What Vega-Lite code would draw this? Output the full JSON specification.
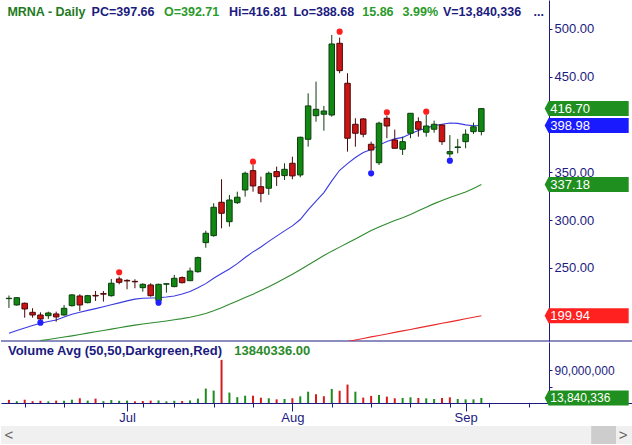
{
  "$schema": "https://vega.github.io/schema/vega-lite/v6.json",
  "padding": 0,
  "background": "#ffffff",
  "config": {"view": {"stroke": null}, "font": "Liberation Sans"},
  "datasets": {
    "one": [{}],
    "days": [
      {"i": -12, "date": "2021-06-10", "o": 217.9, "h": 221.2, "l": 208.2, "c": 218.3, "v": 8500000, "chg": "down", "ma20": 181.7},
      {"i": -11, "date": "2021-06-11", "o": 211.3, "h": 219.5, "l": 210.5, "c": 218.9, "v": 5000000, "chg": "up", "ma20": 184.5},
      {"i": -10, "date": "2021-06-14", "o": 213.1, "h": 213.8, "l": 198.0, "c": 207.1, "v": 9000000, "chg": "down", "ma20": 187.2},
      {"i": -9, "date": "2021-06-15", "o": 203.6, "h": 207.9, "l": 198.0, "c": 200.8, "v": 5000000, "chg": "down", "ma20": 189.8},
      {"i": -8, "date": "2021-06-16", "o": 200.8, "h": 203.6, "l": 194.6, "c": 196.6, "v": 6000000, "chg": "down", "ma20": 192.2, "ma50": 174.0},
      {"i": -7, "date": "2021-06-17", "o": 200.1, "h": 204.3, "l": 196.7, "c": 202.9, "v": 4500000, "chg": "up", "ma20": 194.0, "ma50": 175.2},
      {"i": -6, "date": "2021-06-18", "o": 201.9, "h": 204.3, "l": 193.8, "c": 198.8, "v": 6500000, "chg": "down", "ma20": 195.6, "ma50": 176.4},
      {"i": -5, "date": "2021-06-21", "o": 200.8, "h": 211.3, "l": 200.1, "c": 207.8, "v": 6500000, "chg": "up", "ma20": 198.6, "ma50": 177.7},
      {"i": -4, "date": "2021-06-22", "o": 210.6, "h": 222.5, "l": 209.5, "c": 221.8, "v": 9000000, "chg": "up", "ma20": 201.6, "ma50": 179.0},
      {"i": -3, "date": "2021-06-23", "o": 220.7, "h": 222.5, "l": 205.0, "c": 211.3, "v": 13000000, "chg": "down", "ma20": 203.6, "ma50": 180.4},
      {"i": -2, "date": "2021-06-24", "o": 213.7, "h": 221.8, "l": 213.0, "c": 221.0, "v": 6500000, "chg": "up", "ma20": 205.6, "ma50": 181.8},
      {"i": -1, "date": "2021-06-25", "o": 221.3, "h": 225.9, "l": 215.5, "c": 220.7, "v": 12000000, "chg": "down", "ma20": 207.5, "ma50": 183.2},
      {"i": 0, "date": "2021-06-28", "o": 223.2, "h": 225.9, "l": 214.8, "c": 222.6, "v": 5000000, "chg": "up", "ma20": 209.5, "ma50": 184.6},
      {"i": 1, "date": "2021-06-29", "o": 221.0, "h": 238.5, "l": 220.0, "c": 234.0, "v": 8000000, "chg": "up", "ma20": 211.5, "ma50": 186.0},
      {"i": 2, "date": "2021-06-30", "o": 238.5, "h": 240.9, "l": 232.9, "c": 235.0, "v": 6000000, "chg": "up", "ma20": 213.5, "ma50": 187.4},
      {"i": 3, "date": "2021-07-01", "o": 237.0, "h": 238.2, "l": 227.7, "c": 236.4, "v": 6500000, "chg": "up", "ma20": 215.6, "ma50": 188.9},
      {"i": 4, "date": "2021-07-02", "o": 236.0, "h": 238.2, "l": 228.8, "c": 235.5, "v": 4500000, "chg": "down", "ma20": 217.4, "ma50": 190.2},
      {"i": 5, "date": "2021-07-06", "o": 229.4, "h": 234.0, "l": 225.2, "c": 232.9, "v": 5500000, "chg": "down", "ma20": 218.3, "ma50": 191.3},
      {"i": 6, "date": "2021-07-07", "o": 232.2, "h": 234.0, "l": 220.0, "c": 221.0, "v": 6500000, "chg": "down", "ma20": 218.6, "ma50": 192.4},
      {"i": 7, "date": "2021-07-08", "o": 215.8, "h": 233.5, "l": 215.0, "c": 232.9, "v": 7000000, "chg": "up", "ma20": 218.8, "ma50": 193.5},
      {"i": 8, "date": "2021-07-09", "o": 233.0, "h": 234.0, "l": 224.2, "c": 233.5, "v": 4500000, "chg": "up", "ma20": 219.6, "ma50": 194.6},
      {"i": 9, "date": "2021-07-12", "o": 230.5, "h": 242.7, "l": 229.8, "c": 239.2, "v": 6000000, "chg": "up", "ma20": 220.6, "ma50": 195.8},
      {"i": 10, "date": "2021-07-13", "o": 239.9, "h": 241.2, "l": 233.9, "c": 234.6, "v": 5500000, "chg": "down", "ma20": 222.8, "ma50": 197.0},
      {"i": 11, "date": "2021-07-14", "o": 236.7, "h": 250.4, "l": 236.3, "c": 246.8, "v": 7000000, "chg": "up", "ma20": 225.3, "ma50": 198.4},
      {"i": 12, "date": "2021-07-15", "o": 246.1, "h": 261.9, "l": 245.0, "c": 260.8, "v": 12000000, "chg": "up", "ma20": 229.2, "ma50": 200.2},
      {"i": 13, "date": "2021-07-16", "o": 276.5, "h": 289.0, "l": 271.2, "c": 286.3, "v": 39500000, "chg": "up", "ma20": 233.6, "ma50": 202.4},
      {"i": 14, "date": "2021-07-19", "o": 283.8, "h": 317.7, "l": 282.7, "c": 313.5, "v": 34000000, "chg": "up", "ma20": 239.3, "ma50": 205.2},
      {"i": 15, "date": "2021-07-20", "o": 318.7, "h": 342.8, "l": 291.5, "c": 307.2, "v": 118000000, "chg": "down", "ma20": 244.3, "ma50": 208.4},
      {"i": 16, "date": "2021-07-21", "o": 298.4, "h": 326.4, "l": 293.2, "c": 321.1, "v": 28500000, "chg": "up", "ma20": 249.0, "ma50": 212.0},
      {"i": 17, "date": "2021-07-22", "o": 318.3, "h": 329.8, "l": 316.9, "c": 324.0, "v": 16000000, "chg": "up", "ma20": 254.5, "ma50": 215.5},
      {"i": 18, "date": "2021-07-23", "o": 331.6, "h": 350.8, "l": 324.6, "c": 349.0, "v": 20000000, "chg": "up", "ma20": 261.0, "ma50": 219.0},
      {"i": 19, "date": "2021-07-26", "o": 351.8, "h": 357.7, "l": 329.8, "c": 335.8, "v": 20000000, "chg": "down", "ma20": 266.8, "ma50": 222.6},
      {"i": 20, "date": "2021-07-27", "o": 335.0, "h": 345.5, "l": 318.7, "c": 328.1, "v": 14500000, "chg": "down", "ma20": 272.0, "ma50": 226.4},
      {"i": 21, "date": "2021-07-28", "o": 333.4, "h": 350.8, "l": 326.4, "c": 349.0, "v": 13000000, "chg": "up", "ma20": 277.8, "ma50": 230.4},
      {"i": 22, "date": "2021-07-29", "o": 350.8, "h": 356.0, "l": 335.8, "c": 345.5, "v": 10000000, "chg": "down", "ma20": 283.3, "ma50": 234.6},
      {"i": 23, "date": "2021-07-30", "o": 346.6, "h": 359.5, "l": 342.1, "c": 353.2, "v": 11000000, "chg": "up", "ma20": 288.8, "ma50": 239.0},
      {"i": 24, "date": "2021-08-02", "o": 359.5, "h": 366.4, "l": 342.8, "c": 346.3, "v": 13000000, "chg": "down", "ma20": 294.0, "ma50": 243.5},
      {"i": 25, "date": "2021-08-03", "o": 347.3, "h": 387.3, "l": 344.9, "c": 386.7, "v": 18200000, "chg": "up", "ma20": 300.7, "ma50": 248.2},
      {"i": 26, "date": "2021-08-04", "o": 384.6, "h": 432.7, "l": 376.9, "c": 419.5, "v": 31000000, "chg": "up", "ma20": 310.7, "ma50": 253.1},
      {"i": 27, "date": "2021-08-05", "o": 409.3, "h": 444.9, "l": 403.0, "c": 416.0, "v": 24000000, "chg": "down", "ma20": 319.8, "ma50": 258.0},
      {"i": 28, "date": "2021-08-06", "o": 410.8, "h": 419.5, "l": 393.6, "c": 414.2, "v": 18500000, "chg": "down", "ma20": 328.8, "ma50": 263.0},
      {"i": 29, "date": "2021-08-09", "o": 410.0, "h": 493.7, "l": 408.3, "c": 484.3, "v": 38500000, "chg": "up", "ma20": 341.1, "ma50": 267.6},
      {"i": 30, "date": "2021-08-10", "o": 485.0, "h": 491.0, "l": 453.7, "c": 456.4, "v": 33500000, "chg": "down", "ma20": 352.2, "ma50": 271.8},
      {"i": 31, "date": "2021-08-11", "o": 443.2, "h": 453.7, "l": 371.7, "c": 385.7, "v": 50500000, "chg": "down", "ma20": 359.1, "ma50": 276.0, "ma200": 173.1},
      {"i": 32, "date": "2021-08-12", "o": 400.3, "h": 406.6, "l": 376.9, "c": 390.9, "v": 31000000, "chg": "up", "ma20": 365.6, "ma50": 280.3, "ma200": 174.7},
      {"i": 33, "date": "2021-08-13", "o": 405.9, "h": 406.6, "l": 386.7, "c": 389.9, "v": 14700000, "chg": "down", "ma20": 370.8, "ma50": 284.8, "ma200": 176.3},
      {"i": 34, "date": "2021-08-16", "o": 379.4, "h": 382.1, "l": 352.5, "c": 373.4, "v": 19500000, "chg": "down", "ma20": 373.8, "ma50": 289.2, "ma200": 177.9},
      {"i": 35, "date": "2021-08-17", "o": 360.1, "h": 403.0, "l": 357.7, "c": 401.4, "v": 22000000, "chg": "up", "ma20": 378.5, "ma50": 292.8, "ma200": 179.4},
      {"i": 36, "date": "2021-08-18", "o": 406.6, "h": 409.3, "l": 385.7, "c": 398.5, "v": 17500000, "chg": "down", "ma20": 382.4, "ma50": 296.3, "ma200": 181.0},
      {"i": 37, "date": "2021-08-19", "o": 383.9, "h": 394.7, "l": 375.0, "c": 375.2, "v": 13000000, "chg": "down", "ma20": 385.0, "ma50": 299.6, "ma200": 182.6},
      {"i": 38, "date": "2021-08-20", "o": 374.2, "h": 387.3, "l": 368.2, "c": 382.1, "v": 13800000, "chg": "up", "ma20": 386.6, "ma50": 302.6, "ma200": 184.2},
      {"i": 39, "date": "2021-08-23", "o": 390.9, "h": 411.8, "l": 385.7, "c": 411.8, "v": 15600000, "chg": "up", "ma20": 390.4, "ma50": 306.0, "ma200": 185.7},
      {"i": 40, "date": "2021-08-24", "o": 403.0, "h": 407.6, "l": 387.3, "c": 395.1, "v": 13800000, "chg": "down", "ma20": 393.8, "ma50": 309.8, "ma200": 187.3},
      {"i": 41, "date": "2021-08-25", "o": 392.0, "h": 410.0, "l": 387.3, "c": 398.5, "v": 12800000, "chg": "up", "ma20": 396.2, "ma50": 313.6, "ma200": 188.9},
      {"i": 42, "date": "2021-08-26", "o": 395.1, "h": 404.1, "l": 391.5, "c": 400.3, "v": 11000000, "chg": "up", "ma20": 399.0, "ma50": 317.3, "ma200": 190.5},
      {"i": 43, "date": "2021-08-27", "o": 399.6, "h": 399.6, "l": 378.7, "c": 382.1, "v": 13800000, "chg": "down", "ma20": 400.4, "ma50": 320.5, "ma200": 192.1},
      {"i": 44, "date": "2021-08-30", "o": 369.3, "h": 389.0, "l": 366.0, "c": 371.7, "v": 15600000, "chg": "down", "ma20": 401.7, "ma50": 323.6, "ma200": 193.6},
      {"i": 45, "date": "2021-08-31", "o": 376.0, "h": 385.0, "l": 370.0, "c": 376.6, "v": 11000000, "chg": "up", "ma20": 401.2, "ma50": 326.6, "ma200": 195.2},
      {"i": 46, "date": "2021-09-01", "o": 382.1, "h": 395.0, "l": 375.2, "c": 389.9, "v": 10000000, "chg": "up", "ma20": 399.7, "ma50": 329.4, "ma200": 196.8},
      {"i": 47, "date": "2021-09-02", "o": 392.6, "h": 402.0, "l": 390.2, "c": 397.66, "v": 10000000, "chg": "up", "ma20": 398.8, "ma50": 333.2, "ma200": 198.4},
      {"i": 48, "date": "2021-09-03", "o": 392.71, "h": 416.81, "l": 388.68, "c": 416.70, "v": 13840336, "chg": "up", "ma20": 398.98, "ma50": 337.18, "ma200": 199.94}
    ],
    "pivots": [
      {"i": -8, "price": 192.8, "kind": "low"},
      {"i": 2, "price": 245.5, "kind": "high"},
      {"i": 7, "price": 213.7, "kind": "low"},
      {"i": 19, "price": 361.2, "kind": "high"},
      {"i": 30, "price": 497.2, "kind": "high"},
      {"i": 34, "price": 349.0, "kind": "low"},
      {"i": 36, "price": 412.9, "kind": "high"},
      {"i": 41, "price": 413.5, "kind": "high"},
      {"i": 44, "price": 362.2, "kind": "low"}
    ],
    "levels": [
      {"line": "close", "value": 416.70},
      {"line": "ma20", "value": 398.98},
      {"line": "ma50", "value": 337.18},
      {"line": "ma200", "value": 199.94}
    ],
    "vlevel": [{"value": 13840336}]
  },
  "vconcat": [
    {
      "spacing": 0,
      "vconcat": [
        {
          "width": 632,
          "height": 341,
          "data": {"name": "days"},
          "layer": [
            {
              "data": {"name": "one"},
              "mark": {"type": "rule", "color": "#1b1b80", "strokeWidth": 1},
              "encoding": {
                "y": {
                  "datum": 173.6,
                  "type": "quantitative",
                  "scale": {"domain": [173.6, 530.3], "nice": false, "zero": false},
                  "axis": {
                    "orient": "right", "offset": -84, "title": null, "grid": false,
                    "values": [250, 300, 350, 450, 500], "format": ".2f",
                    "domainColor": "#1b1b80", "tickColor": "#1b1b80", "tickSize": 3,
                    "labelPadding": 2, "labelColor": "#1b1b80", "labelFont": "Liberation Sans",
                    "labelFontSize": 13, "labelOverlap": false, "zindex": 0
                  }
                }
              }
            },
            {
              "mark": {"type": "line", "color": "#e82a2a", "strokeWidth": 1.1, "clip": true},
              "encoding": {
                "x": {"field": "i", "type": "quantitative", "scale": {"domain": [-12.375, 66.625], "nice": false, "zero": false}, "axis": null},
                "y": {"field": "ma200", "type": "quantitative"}
              }
            },
            {
              "mark": {"type": "line", "color": "#2e8b2e", "strokeWidth": 1.1, "clip": true},
              "encoding": {
                "x": {"field": "i", "type": "quantitative", "axis": null},
                "y": {"field": "ma50", "type": "quantitative"}
              }
            },
            {
              "mark": {"type": "line", "color": "#3a3ae0", "strokeWidth": 1.1, "clip": true},
              "encoding": {
                "x": {"field": "i", "type": "quantitative", "axis": null},
                "y": {"field": "ma20", "type": "quantitative"}
              }
            },
            {
              "mark": {"type": "rule", "strokeWidth": 1},
              "encoding": {
                "x": {"field": "i", "type": "quantitative", "axis": null},
                "y": {"field": "l", "type": "quantitative"},
                "y2": {"field": "h"},
                "color": {"condition": {"test": "datum.c >= datum.o", "value": "#0c3f0c"}, "value": "#4a0808"}
              }
            },
            {
              "mark": {"type": "bar", "width": 5.5, "strokeWidth": 1},
              "encoding": {
                "x": {"field": "i", "type": "quantitative", "axis": null},
                "y": {"field": "o", "type": "quantitative"},
                "y2": {"field": "c"},
                "fill": {"condition": {"test": "datum.c >= datum.o", "value": "#118811"}, "value": "#cc1414"},
                "stroke": {"condition": {"test": "datum.c >= datum.o", "value": "#0c3f0c"}, "value": "#4a0808"}
              }
            },
            {
              "data": {"name": "pivots"},
              "mark": {"type": "circle", "size": 38, "opacity": 1},
              "encoding": {
                "x": {"field": "i", "type": "quantitative", "axis": null},
                "y": {"field": "price", "type": "quantitative"},
                "color": {"condition": {"test": "datum.kind == 'high'", "value": "#ff1f1f"}, "value": "#1f1fff"}
              }
            },
            {
              "data": {"name": "levels"},
              "mark": {"type": "point", "shape": "M-1,0L-0.905,-0.1786L1,-0.1786L1,0.1786L-0.905,0.1786Z", "size": 7056, "filled": true, "opacity": 1, "strokeWidth": 0},
              "encoding": {
                "x": {"datum": 61.375, "type": "quantitative", "axis": null},
                "y": {"field": "value", "type": "quantitative"},
                "color": {
                  "condition": [
                    {"test": "datum.line == 'ma20'", "value": "#1a1aff"},
                    {"test": "datum.line == 'ma200'", "value": "#ff2020"}
                  ],
                  "value": "#1f8f1f"
                }
              }
            },
            {
              "data": {"name": "levels"},
              "mark": {"type": "text", "align": "left", "baseline": "middle", "fontSize": 13, "color": "#ffffff", "font": "Liberation Sans"},
              "encoding": {
                "x": {"datum": 56.75, "type": "quantitative", "axis": null},
                "y": {"field": "value", "type": "quantitative"},
                "text": {"field": "value", "type": "quantitative", "format": ".2f"}
              }
            },
            {
              "data": {"name": "one"},
              "mark": {"type": "text", "text": "MRNA - Daily", "align": "left", "baseline": "middle", "fontSize": 12.5, "fontWeight": "bold", "color": "#1e7b1e"},
              "encoding": {"x": {"datum": -12.2, "type": "quantitative", "axis": null}, "y": {"datum": 517.75, "type": "quantitative"}}
            },
            {
              "data": {"name": "one"},
              "mark": {"type": "text", "text": "PC=397.66", "align": "left", "baseline": "middle", "fontSize": 12.5, "fontWeight": "bold", "color": "#1b1b80"},
              "encoding": {"x": {"datum": -1.5, "type": "quantitative", "axis": null}, "y": {"datum": 517.75, "type": "quantitative"}}
            },
            {
              "data": {"name": "one"},
              "mark": {"type": "text", "text": "O=392.71", "align": "left", "baseline": "middle", "fontSize": 12.5, "fontWeight": "bold", "color": "#2a9a2a"},
              "encoding": {"x": {"datum": 7.69, "type": "quantitative", "axis": null}, "y": {"datum": 517.75, "type": "quantitative"}}
            },
            {
              "data": {"name": "one"},
              "mark": {"type": "text", "text": "Hi=416.81", "align": "left", "baseline": "middle", "fontSize": 12.5, "fontWeight": "bold", "color": "#1b1b80"},
              "encoding": {"x": {"datum": 15.95, "type": "quantitative", "axis": null}, "y": {"datum": 517.75, "type": "quantitative"}}
            },
            {
              "data": {"name": "one"},
              "mark": {"type": "text", "text": "Lo=388.68", "align": "left", "baseline": "middle", "fontSize": 12.5, "fontWeight": "bold", "color": "#1b1b80"},
              "encoding": {"x": {"datum": 24.125, "type": "quantitative", "axis": null}, "y": {"datum": 517.75, "type": "quantitative"}}
            },
            {
              "data": {"name": "one"},
              "mark": {"type": "text", "text": "15.86", "align": "left", "baseline": "middle", "fontSize": 12.5, "fontWeight": "bold", "color": "#2a9a2a"},
              "encoding": {"x": {"datum": 32.875, "type": "quantitative", "axis": null}, "y": {"datum": 517.75, "type": "quantitative"}}
            },
            {
              "data": {"name": "one"},
              "mark": {"type": "text", "text": "3.99%", "align": "left", "baseline": "middle", "fontSize": 12.5, "fontWeight": "bold", "color": "#2a9a2a"},
              "encoding": {"x": {"datum": 38.0, "type": "quantitative", "axis": null}, "y": {"datum": 517.75, "type": "quantitative"}}
            },
            {
              "data": {"name": "one"},
              "mark": {"type": "text", "text": "V=13,840,336", "align": "left", "baseline": "middle", "fontSize": 12.5, "fontWeight": "bold", "color": "#1b1b80"},
              "encoding": {"x": {"datum": 43.125, "type": "quantitative", "axis": null}, "y": {"datum": 517.75, "type": "quantitative"}}
            },
            {
              "data": {"name": "one"},
              "mark": {"type": "text", "text": "...", "align": "left", "baseline": "middle", "fontSize": 12.5, "fontWeight": "bold", "color": "#1b1b80"},
              "encoding": {"x": {"datum": 54.625, "type": "quantitative", "axis": null}, "y": {"datum": 517.75, "type": "quantitative"}}
            }
          ]
        },
        {
          "width": 632,
          "height": 61,
          "data": {"name": "days"},
          "layer": [
            {
              "mark": {"type": "bar", "width": 2},
              "encoding": {
                "x": {
                  "field": "i", "type": "quantitative",
                  "scale": {"domain": [-12.375, 66.625], "nice": false, "zero": false},
                  "axis": {
                    "values": [-10, -5, 0, 3, 5, 9, 14, 19, 24, 29, 34, 39, 44, 46, 49, 54],
                    "labelExpr": "datum.value == 3 ? 'Jul' : datum.value == 24 ? 'Aug' : datum.value == 46 ? 'Sep' : ''",
                    "tickSize": {"condition": {"test": "datum.value == 3 || datum.value == 24 || datum.value == 46", "value": 8}, "value": 4},
                    "title": null, "grid": false,
                    "domainColor": "#1b1b80", "tickColor": "#1b1b80", "labelColor": "#1b1b80",
                    "labelFont": "Liberation Sans", "labelFontSize": 13, "labelPadding": 0,
                    "labelFlush": false, "labelOverlap": false, "zindex": 0
                  }
                },
                "y": {
                  "field": "v", "type": "quantitative",
                  "scale": {"domain": [0, 167000000], "nice": false, "zero": false},
                  "axis": {
                    "orient": "right", "offset": -84, "title": null, "grid": false,
                    "values": [45000000, 90000000],
                    "labelExpr": "datum.value == 90000000 ? format(datum.value, ',.0f') : ''",
                    "domainColor": "#1b1b80", "tickColor": "#1b1b80", "tickSize": 3,
                    "labelPadding": 2, "labelColor": "#1b1b80", "labelFont": "Liberation Sans",
                    "labelFontSize": 12, "labelOverlap": false, "zindex": 0
                  }
                },
                "color": {"condition": {"test": "datum.chg == 'up'", "value": "#1d8c1d"}, "value": "#d41c1c"}
              }
            },
            {
              "data": {"name": "vlevel"},
              "mark": {"type": "point", "shape": "M-1,0L-0.905,-0.1786L1,-0.1786L1,0.1786L-0.905,0.1786Z", "size": 7056, "filled": true, "opacity": 1, "strokeWidth": 0, "color": "#1f8f1f"},
              "encoding": {
                "x": {"datum": 61.375, "type": "quantitative"},
                "y": {"field": "value", "type": "quantitative"}
              }
            },
            {
              "data": {"name": "vlevel"},
              "mark": {"type": "text", "align": "left", "baseline": "middle", "fontSize": 12, "color": "#ffffff"},
              "encoding": {
                "x": {"datum": 56.75, "type": "quantitative"},
                "y": {"field": "value", "type": "quantitative"},
                "text": {"field": "value", "type": "quantitative", "format": ","}
              }
            },
            {
              "data": {"name": "one"},
              "mark": {"type": "text", "text": "Volume Avg (50,50,Darkgreen,Red)", "align": "left", "baseline": "middle", "fontSize": 13, "fontWeight": "bold", "color": "#1b1b80"},
              "encoding": {"x": {"datum": -12.125, "type": "quantitative"}, "y": {"datum": 142000000, "type": "quantitative"}}
            },
            {
              "data": {"name": "one"},
              "mark": {"type": "text", "text": "13840336.00", "align": "left", "baseline": "middle", "fontSize": 13, "fontWeight": "bold", "color": "#2a8a2a"},
              "encoding": {"x": {"datum": 16.625, "type": "quantitative"}, "y": {"datum": 142000000, "type": "quantitative"}}
            }
          ]
        }
      ]
    },
    {
      "width": 632,
      "height": 18,
      "view": {"fill": "#f0f0f0", "stroke": null},
      "data": {"name": "one"},
      "layer": [
        {
          "mark": {"type": "rect", "color": "#cdcdcd"},
          "encoding": {
            "x": {"datum": 61.4, "type": "quantitative", "scale": {"domain": [-12.375, 66.625], "nice": false, "zero": false}, "axis": null},
            "x2": {"datum": 64.5}
          }
        },
        {
          "mark": {"type": "text", "text": "<", "fontSize": 15, "color": "#606060"},
          "encoding": {"x": {"datum": -11.4, "type": "quantitative", "axis": null}}
        },
        {
          "mark": {"type": "text", "text": ">", "fontSize": 15, "color": "#606060"},
          "encoding": {"x": {"datum": 65.4, "type": "quantitative", "axis": null}}
        }
      ]
    }
  ],
  "spacing": 2
}
